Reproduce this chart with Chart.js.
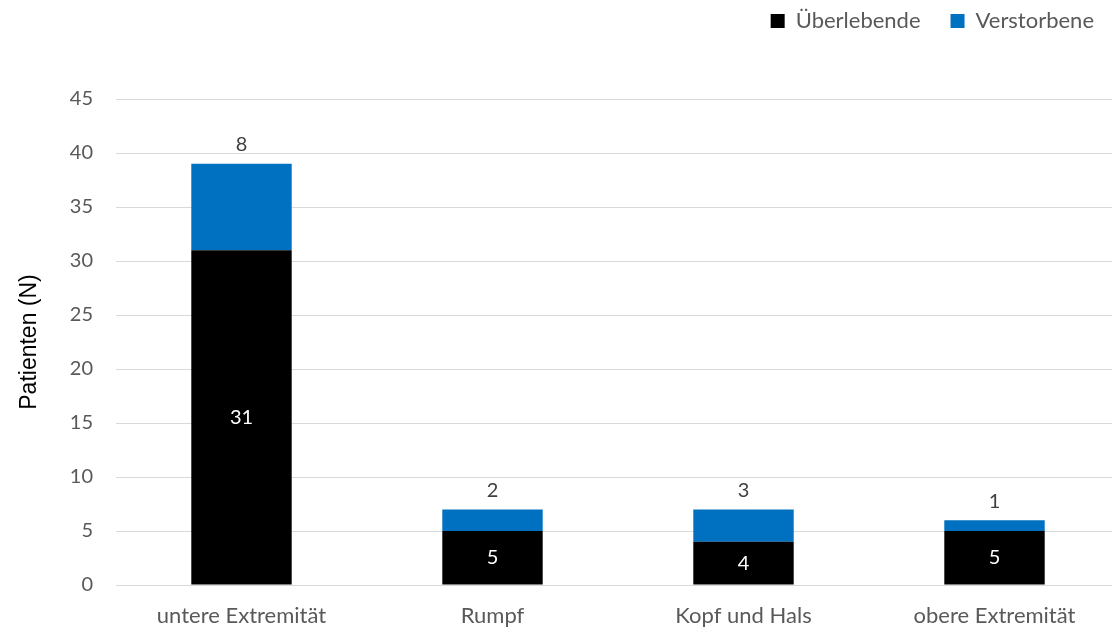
<!DOCTYPE html>
<html>
<head>
<meta charset="utf-8">
<script src="https://cdn.jsdelivr.net/npm/chart.js@4/dist/chart.umd.min.js"></script>
<style>
  html, body { margin: 0; padding: 0; background: #fff; }
  #wrap { width: 1112px; height: 631px; }
</style>
</head>
<body>
<div id="wrap"><canvas id="chart"></canvas></div>
<script>
// Lokalisation der Verletzung, Überlebende vs. Verstorbene
const categories = ['untere Extremität', 'Rumpf', 'Kopf und Hals', 'obere Extremität'];
const survivors = [31, 5, 4, 5];
const deceased = [8, 2, 3, 1];
const yTicks = [0, 5, 10, 15, 20, 25, 30, 35, 40, 45];

const labelFont = 'Lato, "Open Sans", sans-serif';
const grey = '#595959';

// Zahlen in bzw. über den Balken
const barLabels = {
    id: 'barLabels',
    afterDatasetsDraw(chart) {
        const ctx = chart.ctx;
        ctx.save();
        ctx.font = '20px ' + labelFont;
        ctx.textAlign = 'center';
        ctx.textBaseline = 'middle';
        chart.data.datasets.forEach((ds, i) => {
            chart.getDatasetMeta(i).data.forEach((bar, j) => {
                if (i === 0) {
                    ctx.fillStyle = '#ffffff';
                    ctx.fillText(ds.data[j], bar.x, (bar.y + bar.base) / 2);
                } else {
                    ctx.fillStyle = '#404040';
                    ctx.fillText(ds.data[j], bar.x, bar.y - 19);
                }
            });
        });
        ctx.restore();
    }
};

// mehr Abstand unter der Legende, Zeichenfläche rechts etwas über den Rand hinaus
const layoutTweaks = {
    id: 'layoutTweaks',
    beforeInit(chart) {
        const fit = chart.legend.fit;
        chart.legend.fit = function () {
            fit.bind(chart.legend)();
            this.height += 57;
        };
    },
    afterLayout(chart) {
        const right = 1120;
        const x = chart.scales.x;
        x.right = right;
        x.width = right - x.left;
        x.configure();
        chart.chartArea.right = right;
        chart.chartArea.width = right - chart.chartArea.left;
    }
};

new Chart(document.getElementById('chart'), {
    type: 'bar',
    data: {
        labels: categories,
        datasets: [
            { label: 'Überlebende', data: survivors, backgroundColor: '#000000' },
            { label: 'Verstorbene', data: deceased, backgroundColor: '#0070c0' }
        ]
    },
    options: {
        responsive: true,
        maintainAspectRatio: false,
        animation: false,
        layout: { padding: { top: -20, right: -12, left: 0, bottom: 0 } },
        datasets: { bar: { barPercentage: 0.4, categoryPercentage: 1.0 } },
        plugins: {
            legend: {
                position: 'top',
                align: 'end',
                labels: {
                    boxWidth: 14,
                    boxHeight: 14,
                    padding: 30,
                    color: grey,
                    font: { size: 22, family: labelFont }
                }
            },
            tooltip: { enabled: false }
        },
        scales: {
            x: {
                stacked: true,
                grid: { display: false },
                border: { color: '#d9d9d9' },
                afterFit(axis) { axis.height = 46; },
                ticks: {
                    color: grey,
                    padding: 10,
                    font: { size: 22, family: labelFont }
                }
            },
            y: {
                stacked: true,
                min: 0,
                max: 45,
                afterBuildTicks(axis) {
                    axis.ticks = yTicks.map(v => ({ value: v }));
                },
                afterFit(axis) { axis.width = 116; },
                grid: { color: '#d9d9d9', drawTicks: false },
                border: { display: false },
                ticks: {
                    color: grey,
                    padding: 23,
                    font: { size: 20, family: labelFont }
                },
                title: {
                    display: true,
                    text: 'Patienten (N)',
                    color: '#000000',
                    padding: { top: 16, bottom: 0 },
                    font: { size: 23, family: '"Liberation Sans", Arial, sans-serif' }
                }
            }
        }
    },
    plugins: [barLabels, layoutTweaks]
});
</script>
</body>
</html>
